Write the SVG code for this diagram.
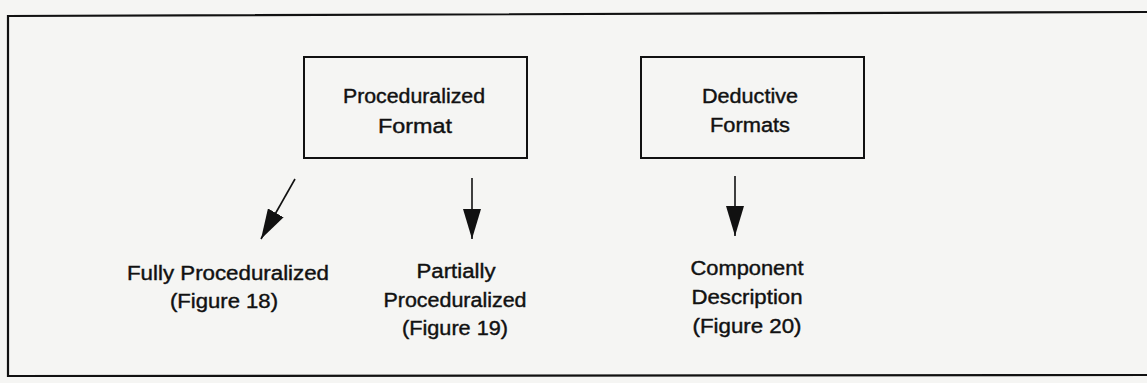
<svg xmlns="http://www.w3.org/2000/svg" width="1147" height="383" viewBox="0 0 1147 383">
  <style>
    .bg { fill: #f5f5f3; }
    .frame { fill: none; stroke: #111; stroke-width: 2.2; }
    .box { fill: none; stroke: #111; stroke-width: 2; }
    .conn { stroke: #111; stroke-width: 1.6; fill: none; }
    text { font-family: "Liberation Sans", Arial, sans-serif; font-size: 20px; fill: #111; stroke: #111; stroke-width: 0.4; text-anchor: middle; }
  </style>
  <defs>
    <marker id="head" markerUnits="userSpaceOnUse" markerWidth="30" markerHeight="18" refX="30" refY="9" orient="auto" viewBox="0 0 30 18">
      <path d="M0,0 L30,9 L0,18 z" fill="#111"/>
    </marker>
  </defs>
  <rect class="bg" x="0" y="0" width="1147" height="383"/>
  <path class="frame" d="M1147,12 L8,16 L8,377 M8,376 L1147,375"/>

  <g id="node-proceduralized-format">
    <rect class="box" x="304" y="57" width="223" height="101"/>
    <text x="414" y="103" textLength="142" lengthAdjust="spacingAndGlyphs">Proceduralized</text>
    <text x="415" y="133" textLength="74" lengthAdjust="spacingAndGlyphs">Format</text>
  </g>

  <g id="node-deductive-formats">
    <rect class="box" x="641" y="57" width="223" height="101"/>
    <text x="750" y="103" textLength="96" lengthAdjust="spacingAndGlyphs">Deductive</text>
    <text x="750" y="132" textLength="80" lengthAdjust="spacingAndGlyphs">Formats</text>
  </g>

  <g id="node-fully">
    <text x="228" y="280" textLength="202" lengthAdjust="spacingAndGlyphs">Fully Proceduralized</text>
    <text x="224" y="308" textLength="108" lengthAdjust="spacingAndGlyphs">(Figure 18)</text>
  </g>

  <g id="node-partially">
    <text x="456" y="278" textLength="79" lengthAdjust="spacingAndGlyphs">Partially</text>
    <text x="455" y="307" textLength="143" lengthAdjust="spacingAndGlyphs">Proceduralized</text>
    <text x="455" y="335" textLength="106" lengthAdjust="spacingAndGlyphs">(Figure 19)</text>
  </g>

  <g id="node-component">
    <text x="747" y="275" textLength="113" lengthAdjust="spacingAndGlyphs">Component</text>
    <text x="747" y="304" textLength="111" lengthAdjust="spacingAndGlyphs">Description</text>
    <text x="747" y="333" textLength="109" lengthAdjust="spacingAndGlyphs">(Figure 20)</text>
  </g>

  <g id="connectors">
    <line class="conn" x1="295" y1="179" x2="261" y2="239" marker-end="url(#head)"/>
    <line class="conn" x1="472" y1="178" x2="472" y2="239" marker-end="url(#head)"/>
    <line class="conn" x1="735" y1="176" x2="735" y2="236" marker-end="url(#head)"/>
  </g>
</svg>
